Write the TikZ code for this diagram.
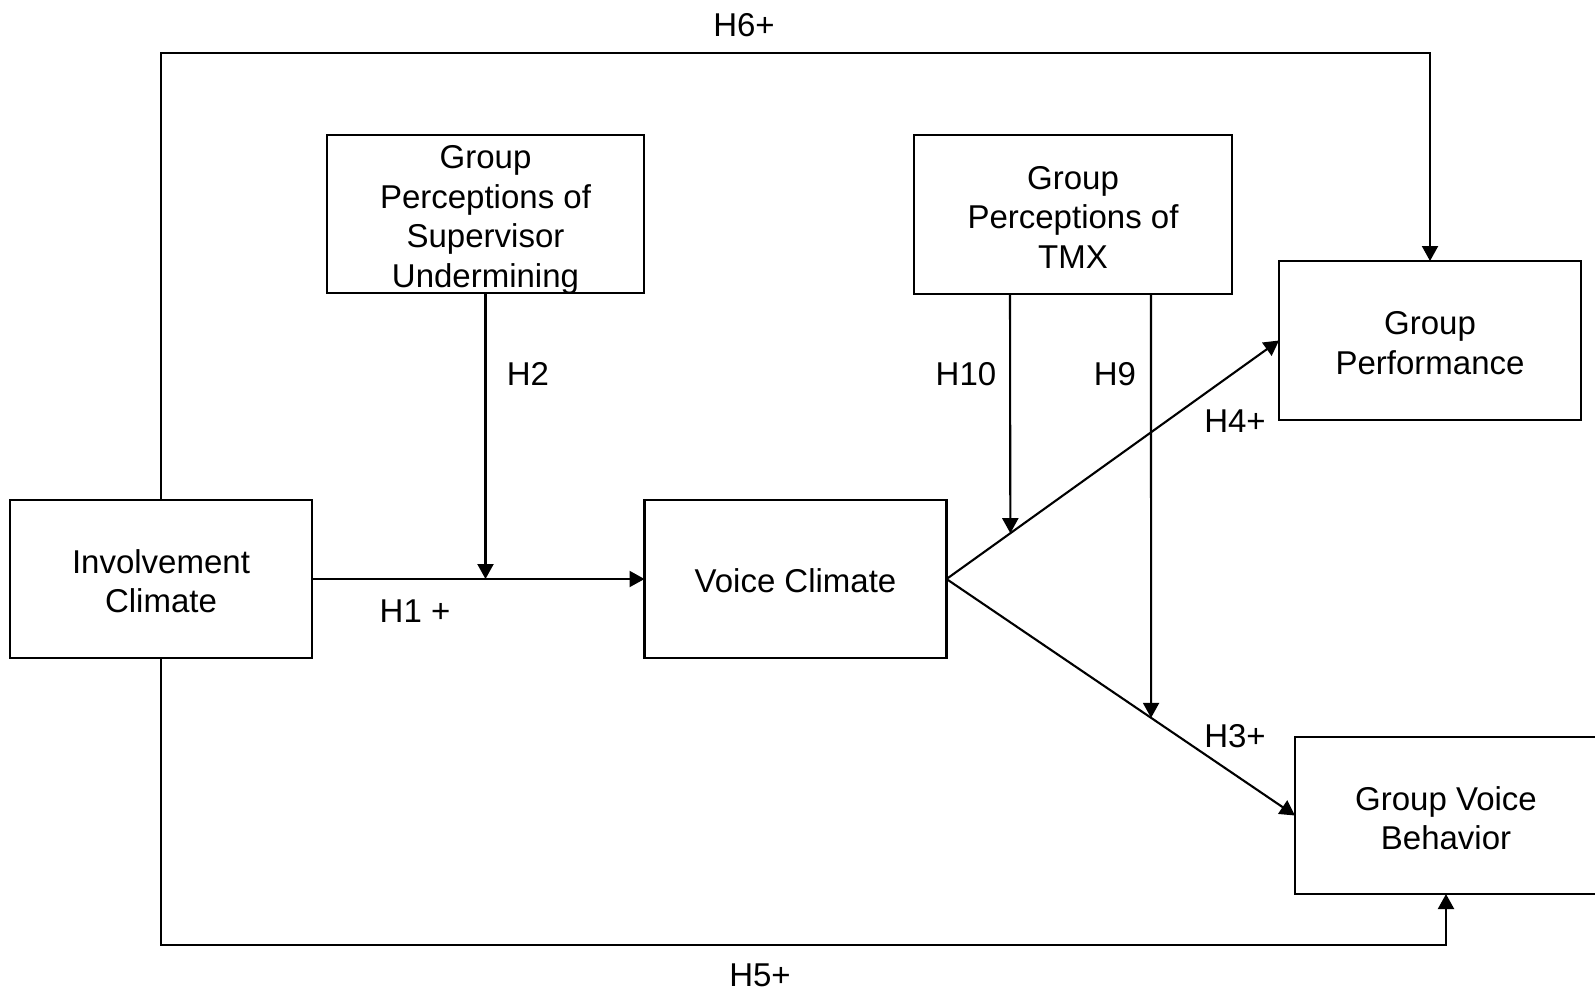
\documentclass[tikz,border=0pt]{standalone}
\usepackage{fontspec}
\setmainfont{Liberation Sans}
\usetikzlibrary{arrows.meta,calc}
\begin{document}
\begin{tikzpicture}[x=1pt,y=-1pt,
  box/.style={draw,line width=2.1pt,minimum width=302pt,minimum height=158pt,inner sep=0pt,outer sep=0pt},
  txt/.style={align=center,inner sep=0pt,font=\fontsize{33}{39.5}\selectfont},
  lab/.style={inner sep=0pt,font=\fontsize{33}{39.5}\selectfont},
  arr/.style={line width=2.1pt,-{Triangle[length=15pt,width=16pt]}}]
\useasboundingbox (0,0) rectangle (1595,994);
% boxes
\node[box] (ic) at (161,579) {};
\node[txt] (ict) at (161,581) {Involvement\\Climate};
\node[box] (vc) at (795.5,579) {};
\node[txt] (vct) at (795.5,581) {Voice Climate};
\node[box,minimum width=317pt] (sup) at (485.5,214) {};
\node[txt] (supt) at (485.5,220) {Group\\Perceptions of\\Supervisor\\Undermining};
\node[box,minimum width=318pt,minimum height=159pt] (tmx) at (1073,214.5) {};
\node[txt] (tmxt) at (1073,217) {Group\\Perceptions of\\TMX};
\node[box,minimum height=159pt] (gp) at (1430,340.5) {};
\node[txt] (gpt) at (1430,343) {Group\\Performance};
\node[box,minimum width=302pt,minimum height=157pt] (gvb) at (1446,815.5) {};
\node[txt] (gvbt) at (1446,818) {Group Voice\\Behavior};
% coordinates
\coordinate (t6) at (161,53);
\coordinate (b5) at (161,945);
\coordinate (h10s) at (1010,294);
\coordinate (h9s) at (1151,294);
\coordinate (h10e) at ($(vc.east)!0.192!(gp.west)$);
\coordinate (h9e) at ($(vc.east)!0.587!(gvb.west)$);
% connectors
\draw[arr] (ic.north) -- (t6) -| (gp.north);
\draw[arr] (ic.south) -- (b5) -| (gvb.south);
\draw[arr] (ic.east) -- (vc.west);
\draw[arr] (sup.south) -- (sup.south |- vc.west);
\draw[arr] (vc.east) -- (gp.west);
\draw[arr] (vc.east) -- (gvb.west);
\draw[arr] (h10s) -- (h10e);
\draw[arr] (h9s) -- (h9e);
% labels
\node[lab] (l6) at (744,25) {H6+};
\node[lab] (l5) at (760,975) {H5+};
\node[lab] (l2) at (528,374) {H2};
\node[lab] (l10) at (966,374) {H10};
\node[lab] (l9) at (1115,374) {H9};
\node[lab] (l4) at (1235,421) {H4+};
\node[lab] (l3) at (1235,736) {H3+};
\node[lab] (l1) at (415,611) {H1 +};
\end{tikzpicture}
\end{document}
